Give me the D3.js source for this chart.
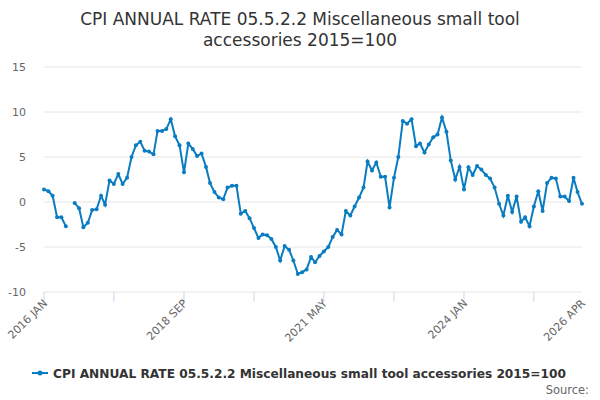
<!DOCTYPE html>
<html>
<head>
<meta charset="utf-8">
<script src="https://cdn.jsdelivr.net/npm/d3@7"></script>
<style>
  body { margin: 0; background: #fff; }
  text { font-family: "DejaVu Sans", sans-serif; }
</style>
</head>
<body>
<svg id="chart" width="600" height="400"></svg>
<script>
var TITLE = ['CPI ANNUAL RATE 05.5.2.2 Miscellaneous small tool', 'accessories 2015=100'];
var SERIES_NAME = 'CPI ANNUAL RATE 05.5.2.2 Miscellaneous small tool accessories 2015=100';
var START = new Date(2016, 0, 1);
// monthly values from 2016 JAN to 2026 APR (null = missing)
var values = [
    1.4, 1.2, 0.7, -1.7, -1.7, -2.7, null, -0.1, -0.7, -2.8, -2.3, -0.9,
    -0.8, 0.7, -0.3, 2.4, 2.0, 3.1, 2.0, 2.7, 5.0, 6.3, 6.7, 5.7,
    5.6, 5.3, 7.9, 7.9, 8.1, 9.2, 7.3, 6.3, 3.3, 6.5, 5.9, 5.1,
    5.4, 3.9, 2.1, 1.1, 0.5, 0.3, 1.6, 1.8, 1.8, -1.3, -1.0, -1.8,
    -2.9, -4.0, -3.6, -3.7, -4.1, -5.0, -6.5, -4.9, -5.3, -6.5, -8.0, -7.8,
    -7.5, -6.1, -6.7, -6.0, -5.5, -5.0, -3.9, -3.1, -3.6, -1.0, -1.5, -0.5,
    0.5, 1.6, 4.5, 3.5, 4.4, 2.8, 2.8, -0.6, 2.7, 5.0, 9.0, 8.7,
    9.2, 6.2, 6.5, 5.5, 6.4, 7.2, 7.5, 9.4, 7.8, 4.6, 2.5, 3.9,
    1.4, 3.85, 3.0, 4.0, 3.6, 3.0, 2.6, 1.6, -0.2, -1.5, 0.7, -1.1,
    0.6, -2.2, -1.7, -2.7, -0.5, 1.2, -1.0, 2.1, 2.7, 2.6, 0.6, 0.6,
    0.1, 2.7, 1.1, -0.2
];
var yTicks = [-10, -5, 0, 5, 10, 15];
var xTickLabels = ['2016 JAN', '2018 SEP', '2021 MAY', '2024 JAN', '2026 APR'];
var xTickMonths = [0, 32, 64, 96, 123];

var data = values.map(function(v, i) {
    return { date: d3.timeMonth.offset(START, i), value: v };
});

var svg = d3.select('#chart');
var x = d3.scaleTime()
    .domain([START, d3.timeMonth.offset(START, values.length - 1)])
    .range([44, 582]);
var y = d3.scaleLinear().domain([-10, 15]).range([292, 67]);

svg.append('g').selectAll('text')
    .data(TITLE).enter().append('text')
    .attr('x', 300).attr('y', function(d, i) { return 25 + i * 21; })
    .attr('text-anchor', 'middle')
    .attr('font-size', 17).attr('fill', '#333')
    .text(function(d) { return d; });

svg.append('g').selectAll('line')
    .data(yTicks).enter().append('line')
    .attr('x1', 44).attr('x2', 582)
    .attr('y1', function(d) { return y(d); })
    .attr('y2', function(d) { return y(d); })
    .attr('stroke', '#e6e6e6');

svg.append('g').selectAll('text')
    .data(yTicks).enter().append('text')
    .attr('x', 26).attr('y', function(d) { return y(d) + 4; })
    .attr('text-anchor', 'end')
    .attr('font-size', 11).attr('fill', '#666')
    .text(function(d) { return d; });

// x ticks
var tickDates = d3.range(0, values.length, 16).map(function(i) { return d3.timeMonth.offset(START, i); });
svg.append('g').selectAll('line')
    .data(tickDates).enter().append('line')
    .attr('x1', function(d) { return x(d); })
    .attr('x2', function(d) { return x(d); })
    .attr('y1', 292).attr('y2', 302)
    .attr('stroke', '#ccd6eb');

svg.append('g').selectAll('text')
    .data(xTickLabels).enter().append('text')
    .attr('font-size', 11).attr('fill', '#666')
    .attr('text-anchor', 'end')
    .attr('transform', function(d, i) {
        var px = x(d3.timeMonth.offset(START, xTickMonths[i])) + 4;
        return 'translate(' + px + ',304) rotate(-45)';
    })
    .text(function(d) { return d; });

var line = d3.line()
    .defined(function(d) { return d.value !== null; })
    .x(function(d) { return x(d.date); })
    .y(function(d) { return y(d.value); });

svg.append('path').datum(data)
    .attr('d', line)
    .attr('fill', 'none').attr('stroke', '#0a7cc1').attr('stroke-width', 2);

svg.append('g').selectAll('circle')
    .data(data.filter(function(d) { return d.value !== null; }))
    .enter().append('circle')
    .attr('cx', function(d) { return x(d.date); })
    .attr('cy', function(d) { return y(d.value); })
    .attr('r', 2).attr('fill', '#0a7cc1');

// legend
var lg = svg.append('g').attr('transform', 'translate(32,373)');
lg.append('line').attr('x1', 0).attr('x2', 16).attr('y1', 0).attr('y2', 0)
    .attr('stroke', '#0a7cc1').attr('stroke-width', 2);
lg.append('circle').attr('cx', 8).attr('cy', 0).attr('r', 2.5).attr('fill', '#0a7cc1');
lg.append('text').attr('x', 21).attr('y', 4.5)
    .attr('font-size', 12.2).attr('font-weight', 'bold').attr('fill', '#333')
    .text(SERIES_NAME);

svg.append('text').attr('x', 589).attr('y', 394)
    .attr('text-anchor', 'end').attr('font-size', 11.5).attr('fill', '#666')
    .text('Source:');
</script>
</body>
</html>
